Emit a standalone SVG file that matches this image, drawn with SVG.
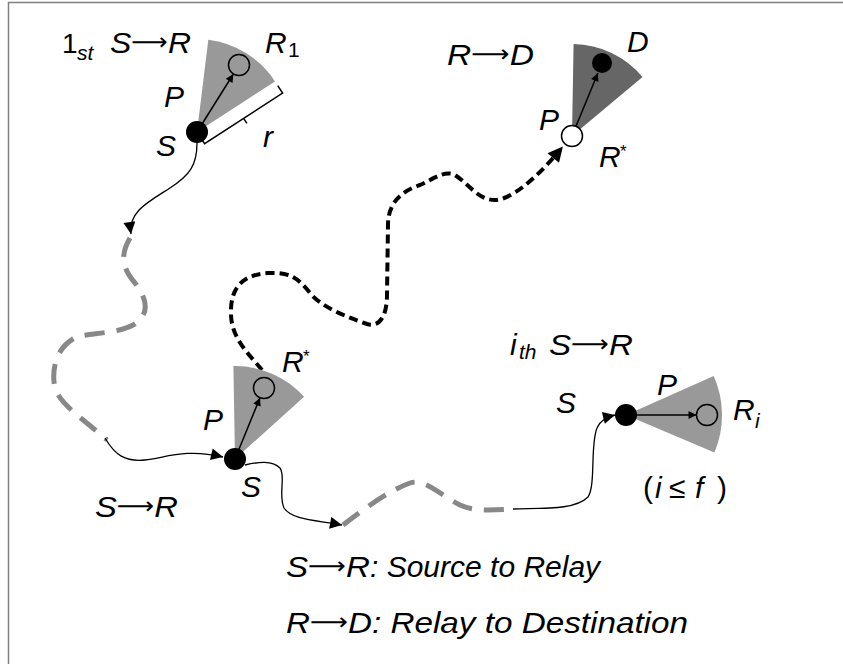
<svg xmlns="http://www.w3.org/2000/svg" width="843" height="664" viewBox="0 0 843 664">
<style>
text{font-family:"Liberation Sans",Arial,sans-serif;font-size:30px;font-style:italic;fill:#000}
.up{font-style:normal}
.ar{font-family:"DejaVu Sans",sans-serif;font-style:normal;font-size:24px}
.sub{font-size:21px}
.sup{font-size:17px;font-style:normal}
.sec{fill:#999}
.dark{fill:#666}
.dot{fill:#000}
.open{fill:none;stroke:#000;stroke-width:1.5}
.ptr{stroke:#000;stroke-width:1.5;fill:none;marker-end:url(#sm)}
.thin{stroke:#000;stroke-width:1.3;fill:none;marker-end:url(#md)}
.gray{stroke:#888;stroke-width:5;fill:none;stroke-dasharray:20 12}
.bd{stroke:#000;stroke-width:4;fill:none;stroke-dasharray:9 5;marker-end:url(#lg)}
</style>
<defs>
<marker id="sm" viewBox="0 0 10 10" refX="10" refY="5" markerWidth="11" markerHeight="8" markerUnits="userSpaceOnUse" orient="auto"><path d="M0,0L10,5L0,10z" fill="#000"/></marker>
<marker id="md" viewBox="0 0 10 10" refX="10" refY="5" markerWidth="16" markerHeight="12" markerUnits="userSpaceOnUse" orient="auto"><path d="M0,0L10,5L0,10z" fill="#000"/></marker>
<marker id="lg" viewBox="0 0 10 10" refX="7" refY="5" markerWidth="18" markerHeight="15" markerUnits="userSpaceOnUse" orient="auto"><path d="M0,0L10,5L0,10z" fill="#000"/></marker>
</defs>
<rect width="843" height="664" fill="#fff"/>
<path d="M8.5,664V2.5H843" fill="none" stroke="#808080" stroke-width="1.5"/>

<g id="connectors">
<path class="thin" d="M197,143 C197,165 190,175 170,188 C148,202 128,212 131,234"/>
<path class="gray" d="M130,238 C120,255 122,268 135,283 C148,300 150,315 133,325 C118,333 95,333 80,336 C60,342 50,365 55,388 C60,405 85,420 107,440"/>
<path class="thin" d="M105,438 C115,455 125,462 145,460 C165,458 185,448 223,457"/>
<path class="thin" d="M245,465 C258,462 272,460 280,468 C286,476 278,495 284,508 C292,520 315,520 342,525"/>
<path class="gray" d="M343,525 C365,508 390,490 410,483 C425,478 440,495 460,505 C475,512 495,510 515,509"/>
<path class="thin" d="M513,509 C545,508 575,510 588,497 C596,485 590,445 597,428 C600,420 607,417 615,415"/>
<path class="bd" d="M262,370 C250,355 232,340 231,315 C230,290 240,275 268,273 C290,272 298,278 310,293 C322,308 350,318 367,324 C380,328 387,315 387,295 L388,225 C388,200 405,190 420,185 C435,178 445,170 455,175 C470,185 478,200 495,200 C510,200 535,180 560,150"/>
</g>

<g id="node-first">
<path class="sec" d="M197,132 L208.3,39.7 A93,93 0 0,1 275,81.4 Z"/>
<line class="ptr" x1="197" y1="132" x2="233.4" y2="74"/>
<circle class="open" cx="239" cy="65" r="10.5"/>
<circle class="dot" cx="197" cy="132" r="11"/>
<path d="M199.7,136.2 L204.6,143.7 L282.6,93.1 L277.7,85.6 M243.6,118.4 L246.9,123.4" fill="none" stroke="#000" stroke-width="1.5"/>
<text x="62" y="53" class="up" style="font-size:28px">1</text>
<text x="77" y="60" class="sub">st</text>
<text x="110" y="53" textLength="81" lengthAdjust="spacingAndGlyphs">S<tspan class="ar" dy="-3">⟶</tspan><tspan dy="3">R</tspan></text>
<text x="265" y="53">R</text>
<text x="288" y="57" class="sub up">1</text>
<text x="164" y="107">P</text>
<text x="156" y="156">S</text>
<text x="263" y="147">r</text>
</g>

<g id="node-dest">
<path class="dark" d="M572,136 L573.6,44 A92,92 0 0,1 642.5,76.9 Z"/>
<line class="ptr" x1="572" y1="136" x2="597.8" y2="73.2"/>
<circle class="dot" cx="602" cy="63" r="10"/>
<circle cx="572" cy="136" r="10.5" fill="#fff" stroke="#000" stroke-width="1.5"/>
<text x="447" y="65" textLength="87" lengthAdjust="spacingAndGlyphs">R<tspan class="ar" dy="-3">⟶</tspan><tspan dy="3">D</tspan></text>
<text x="627" y="52">D</text>
<text x="539" y="130">P</text>
<text x="599" y="167">R</text>
<text x="620" y="157" class="sup">*</text>
</g>

<g id="node-relay">
<path class="sec" d="M235,459 L233.4,366 A93,93 0 0,1 304.1,396.8 Z"/>
<line class="ptr" x1="235" y1="459" x2="260" y2="397.7"/>
<circle class="open" cx="264" cy="388" r="10.5"/>
<circle class="dot" cx="235" cy="459" r="11"/>
<text x="282" y="372">R</text>
<text x="303" y="362" class="sup">*</text>
<text x="203" y="430">P</text>
<text x="241" y="497">S</text>
<text x="95" y="517" textLength="83" lengthAdjust="spacingAndGlyphs">S<tspan class="ar" dy="-3">⟶</tspan><tspan dy="3">R</tspan></text>
</g>

<g id="node-ith">
<path class="sec" d="M626,415 L713.7,376 A96,96 0 0,1 714.4,452.5 Z"/>
<line class="ptr" x1="626" y1="415" x2="696.5" y2="415"/>
<circle class="open" cx="707" cy="415" r="10.5"/>
<circle class="dot" cx="626" cy="415" r="11"/>
<text x="510" y="355">i</text>
<text x="519" y="359" class="sub">th</text>
<text x="549" y="355" textLength="84" lengthAdjust="spacingAndGlyphs">S<tspan class="ar" dy="-3">⟶</tspan><tspan dy="3">R</tspan></text>
<text x="556" y="413">S</text>
<text x="657" y="395">P</text>
<text x="733" y="420">R</text>
<text x="755" y="428" class="sub">i</text>
<text x="643" y="498" class="up">(</text>
<text x="655" y="498">i</text>
<text x="669" y="498" class="up">≤</text>
<text x="695" y="498">f</text>
<text x="717" y="498" class="up">)</text>
</g>

<g id="legend">
<text x="286" y="577"><tspan textLength="84" lengthAdjust="spacingAndGlyphs">S<tspan class="ar" dy="-3">⟶</tspan><tspan dy="3">R</tspan></tspan>: Source to Relay</text>
<text x="286" y="633"><tspan textLength="86" lengthAdjust="spacingAndGlyphs">R<tspan class="ar" dy="-3">⟶</tspan><tspan dy="3">D</tspan></tspan><tspan textLength="316" lengthAdjust="spacingAndGlyphs">: Relay to Destination</tspan></text>
</g>
</svg>
